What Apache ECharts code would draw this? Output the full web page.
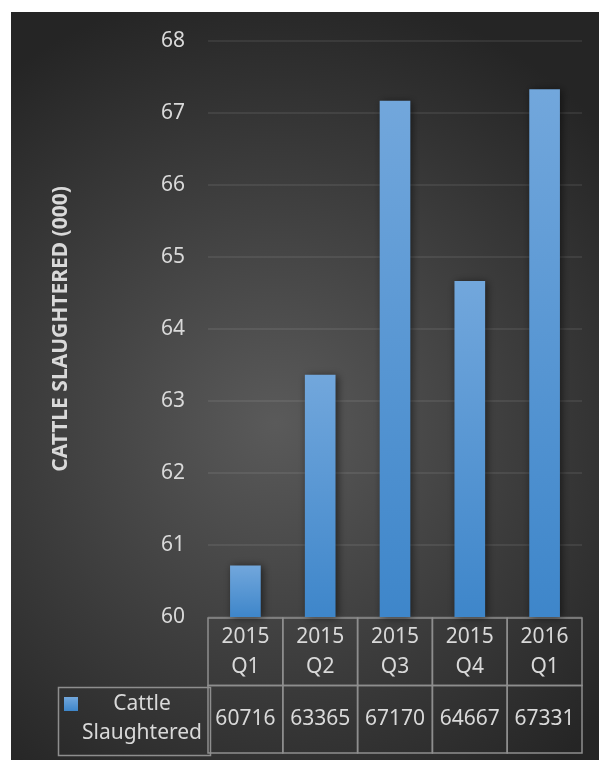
<!DOCTYPE html>
<html>
<head>
<meta charset="utf-8">
<script src="https://cdn.jsdelivr.net/npm/echarts@6/dist/echarts.min.js"></script>
<style>
  html, body { margin: 0; padding: 0; background: #ffffff; }
  #chart { position: absolute; left: 11px; top: 12px; width: 588px; height: 748px; }
</style>
</head>
<body>
<div id="chart"></div>
<script>
// Quarterly cattle slaughtered (head)
const categories = ['2015\nQ1', '2015\nQ2', '2015\nQ3', '2015\nQ4', '2016\nQ1'];
const slaughtered = [60716, 63365, 67170, 64667, 67331];
const seriesName = 'Cattle Slaughtered';
const axisTitle = 'CATTLE SLAUGHTERED (000)';
const yMin = 60000, yMax = 68000, yStep = 1000;

const textColor = '#d9d9d9';
const tableLine = '#8e8e8e';
const fontFamily = '"Noto Sans", "Open Sans", sans-serif';

const barFill = new echarts.graphic.LinearGradient(0, 0, 0, 1, [
  { offset: 0, color: '#72a7dc' },
  { offset: 1, color: '#3e86ca' }
]);

// table cells: row 0 = category, row 1 = value
const tableRows = ['category', 'value'];
const tableCells = [];
categories.forEach((c, i) => {
  tableCells.push({ value: [i, 0], text: c });
  tableCells.push({ value: [i, 1], text: String(slaughtered[i]) });
});

const chart = echarts.init(document.getElementById('chart'));
chart.setOption({
  backgroundColor: new echarts.graphic.RadialGradient(0.45, 0.55, 0.75, [
    { offset: 0, color: '#5a5a5a' },
    { offset: 1, color: '#252525' }
  ]),
  animation: false,
  grid: [
    { left: 197, right: 17, top: 29, bottom: 143 },
    { left: 197, right: 17, top: 606, bottom: 7 }
  ],
  xAxis: [
    {
      type: 'category', gridIndex: 0, data: categories,
      axisLine: { show: false }, axisTick: { show: false }, axisLabel: { show: false }
    },
    {
      type: 'category', gridIndex: 1, data: categories,
      axisLine: { show: false }, axisTick: { show: false }, axisLabel: { show: false }
    }
  ],
  yAxis: [
    {
      type: 'value', gridIndex: 0, min: yMin, max: yMax, interval: yStep,
      axisLabel: {
        color: textColor, fontSize: 21, fontFamily: fontFamily, margin: 23,
        formatter: v => String(v / 1000)
      },
      axisLine: { show: false }, axisTick: { show: false },
      splitLine: { lineStyle: { color: 'rgba(255,255,255,0.1)', width: 1.5 } },
      name: axisTitle, nameLocation: 'middle', nameRotate: 90, nameGap: 136,
      nameTextStyle: { color: textColor, fontSize: 21, fontWeight: 'bold', fontFamily: fontFamily }
    },
    {
      type: 'category', gridIndex: 1, data: tableRows, inverse: true,
      axisLine: { show: false }, axisTick: { show: false }, axisLabel: { show: false },
      splitLine: { show: false }
    }
  ],
  series: [
    {
      name: seriesName, type: 'bar', xAxisIndex: 0, yAxisIndex: 0,
      data: slaughtered, barWidth: '41%',
      itemStyle: {
        color: barFill,
        shadowColor: 'rgba(0,0,0,0.55)', shadowBlur: 8, shadowOffsetX: 2, shadowOffsetY: 1
      }
    },
    {
      type: 'custom', xAxisIndex: 1, yAxisIndex: 1, data: tableCells, silent: true,
      renderItem: function (params, api) {
        const c = api.coord([api.value(0), api.value(1)]);
        const s = api.size([1, 1]);
        return {
          type: 'group',
          children: [
            {
              type: 'rect',
              shape: { x: c[0] - s[0] / 2, y: c[1] - s[1] / 2, width: s[0], height: s[1] },
              style: { fill: 'none', stroke: tableLine, lineWidth: 1.5 }
            },
            {
              type: 'text',
              style: {
                text: tableCells[params.dataIndex].text,
                x: c[0], y: c[1], align: 'center', verticalAlign: 'middle',
                fill: textColor, fontSize: 21, fontFamily: fontFamily, lineHeight: 30
              }
            }
          ]
        };
      }
    }
  ],
  graphic: [
    {
      type: 'rect', left: 45, top: 673,
      shape: { width: 152, height: 68 },
      style: { fill: 'none', stroke: tableLine, lineWidth: 1.5 }
    },
    {
      type: 'rect', left: 53, top: 685,
      shape: { width: 14, height: 14 },
      style: { fill: barFill }
    },
    {
      type: 'text', x: 131, y: 707,
      style: {
        text: 'Cattle\nSlaughtered', align: 'center', verticalAlign: 'middle',
        fill: textColor, fontSize: 21, fontFamily: fontFamily, lineHeight: 29
      }
    }
  ]
});
</script>
</body>
</html>
